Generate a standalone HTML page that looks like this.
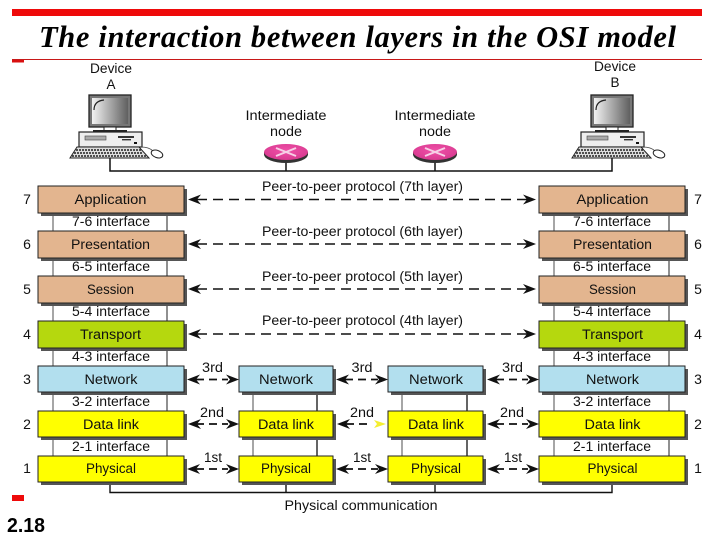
<!DOCTYPE html>
<html>
<head>
<meta charset="utf-8">
<style>
html,body{margin:0;padding:0;background:#fff;width:720px;height:540px;overflow:hidden}
svg{display:block;position:absolute;left:0;top:0;filter:blur(0.3px)}
text{font-family:"Liberation Sans",sans-serif;font-size:13.5px;fill:#111;text-anchor:middle}
.title{font-family:"Liberation Serif",serif;font-weight:bold;font-style:italic;font-size:30.5px;fill:#000;text-anchor:start}
.num{font-size:14px}
.tan{fill:#E3B58F}.lime{fill:#B5D80E}.blue{fill:#B2DFEE}.yel{fill:#FFFF00}
.box{stroke:#222;stroke-width:1}
.dash{stroke:#111;stroke-width:1.6;stroke-dasharray:10 6;fill:none}
.dash2{stroke:#111;stroke-width:1.8;stroke-dasharray:8 5;fill:none}
</style>
</head>
<body>
<svg width="720" height="540" viewBox="0 0 720 540" xmlns="http://www.w3.org/2000/svg">
<defs>
<linearGradient id="scr" x1="0" y1="0" x2="1" y2="0"><stop offset="0" stop-color="#f2f2f2"/><stop offset="1" stop-color="#606060"/></linearGradient>
<radialGradient id="pink" cx="0.5" cy="0.4" r="0.6"><stop offset="0" stop-color="#f050a8"/><stop offset="1" stop-color="#d83a90"/></radialGradient>
<g id="pc">
<rect x="0" y="0" width="42" height="32" fill="#777" stroke="#222" stroke-width="1.3"/>
<rect x="3" y="3" width="36" height="26" fill="url(#scr)"/>
<path d="M5 15 Q5 6 15 5" fill="none" stroke="#222" stroke-width="1.2"/>
<rect x="15" y="32" width="12" height="4" fill="#fff" stroke="#222"/>
<rect x="4" y="35" width="34" height="2" fill="#222"/>
<rect x="-10" y="37" width="63" height="15" fill="#eee" stroke="#222" stroke-width="1.2"/>
<rect x="-4" y="41" width="21" height="4" fill="#aaa" stroke="#444" stroke-width=".6"/>
<rect x="29" y="41" width="16" height="2" fill="#333"/>
<rect x="33" y="44" width="9" height="1.4" fill="#333"/>
<rect x="45" y="47" width="3" height="2" fill="#111"/>
<path d="M-12 52 H50 L60 63 H-19 Z" fill="#ddd" stroke="#222"/>
<path d="M-13 55 H52 M-15 58 H54 M-17 61 H57" stroke="#222" stroke-width="1.4" stroke-dasharray="2 1" fill="none"/>
<path d="M52 52 Q60 52 64 56" fill="none" stroke="#444" stroke-width=".8"/>
<ellipse cx="68" cy="59" rx="6" ry="3.6" transform="rotate(20 68 59)" fill="#fff" stroke="#222"/>
</g>
<g id="node">
<path d="M-22 0 V2.500 A22 8.500 0 0 0 22 2.500 V0" fill="#333"/>
<ellipse cx="0" cy="0" rx="22" ry="8" fill="url(#pink)"/>
<path d="M-10 -4 L10 4 M-10 4 L10 -4" stroke="#f6d0e6" stroke-width="2"/>
</g>
<g id="ah"><path d="M0 0 L13 -5 L9 0 L13 5 Z" fill="#111"/></g>
<g id="ahr"><path d="M0 0 L-13 -5 L-9 0 L-13 5 Z" fill="#111"/></g>
</defs>

<!-- slide chrome -->
<rect x="12" y="9" width="690" height="7" fill="#EE0A0A"/>
<rect x="12" y="59" width="690" height="1" fill="#C81818"/>
<rect x="12" y="60" width="12" height="2.500" fill="#D81010"/>
<rect x="12" y="495" width="12" height="6" fill="#EE0A0A"/>
<text class="title" x="39" y="47" textLength="637" lengthAdjust="spacing">The interaction between layers in the OSI model</text>
<text x="7" y="532" style="font-weight:bold;font-size:20px;fill:#000;text-anchor:start" textLength="38" lengthAdjust="spacingAndGlyphs">2.18</text>

<!-- top network -->
<path d="M110 158 V171 H612 V158 M286 160 V171 M435 160 V171" fill="none" stroke="#111" stroke-width="1.5"/>
<use href="#pc" x="89" y="95"/>
<use href="#pc" x="591" y="95"/>
<use href="#node" x="286" y="152"/>
<use href="#node" x="435" y="152"/>
<text x="111" y="73" textLength="42" lengthAdjust="spacingAndGlyphs">Device</text>
<text x="111" y="89">A</text>
<text x="615" y="71" textLength="42" lengthAdjust="spacingAndGlyphs">Device</text>
<text x="615" y="87">B</text>
<text x="286" y="120" textLength="81" lengthAdjust="spacingAndGlyphs">Intermediate</text>
<text x="286" y="136" textLength="32" lengthAdjust="spacingAndGlyphs">node</text>
<text x="435" y="120" textLength="81" lengthAdjust="spacingAndGlyphs">Intermediate</text>
<text x="435" y="136" textLength="32" lengthAdjust="spacingAndGlyphs">node</text>

<!-- interface columns -->
<path d="M53 213 V456 M554 213 V456" stroke="#888" stroke-width="1.500" fill="none"/>
<path d="M167 213 V456 M669 213 V456" stroke="#222" stroke-width="1" fill="none"/>
<path d="M253 392 V456 M402 392 V456" stroke="#888" stroke-width="1.500" fill="none"/>
<path d="M317 392 V456 M467 392 V456" stroke="#111" stroke-width="1.300" fill="none"/>

<!-- bottom physical link -->
<path d="M110 483 V492.500 H612 V483 M286 483 V492.500 M435 483 V492.500" fill="none" stroke="#111" stroke-width="1.400"/>

<!-- shadows -->
<g fill="#555">
<rect x="41" y="189" width="146" height="27"/><rect x="41" y="234" width="146" height="27"/><rect x="41" y="279" width="146" height="27"/><rect x="41" y="324" width="146" height="27"/><rect x="41" y="369" width="146" height="26"/><rect x="41" y="414" width="146" height="26"/><rect x="41" y="459" width="146" height="26"/>
<rect x="542" y="189" width="146" height="27"/><rect x="542" y="234" width="146" height="27"/><rect x="542" y="279" width="146" height="27"/><rect x="542" y="324" width="146" height="27"/><rect x="542" y="369" width="146" height="26"/><rect x="542" y="414" width="146" height="26"/><rect x="542" y="459" width="146" height="26"/>
<rect x="242" y="369" width="94" height="26"/><rect x="242" y="414" width="94" height="26"/><rect x="242" y="459" width="94" height="26"/>
<rect x="391" y="369" width="95" height="26"/><rect x="391" y="414" width="95" height="26"/><rect x="391" y="459" width="95" height="26"/>
</g>

<!-- left stack -->
<rect class="box tan" x="38" y="186" width="146" height="27"/>
<rect class="box tan" x="38" y="231" width="146" height="27"/>
<rect class="box tan" x="38" y="276" width="146" height="27"/>
<rect class="box lime" x="38" y="321" width="146" height="27"/>
<rect class="box blue" x="38" y="366" width="146" height="26"/>
<rect class="box yel" x="38" y="411" width="146" height="26"/>
<rect class="box yel" x="38" y="456" width="146" height="26"/>
<!-- right stack -->
<rect class="box tan" x="539" y="186" width="146" height="27"/>
<rect class="box tan" x="539" y="231" width="146" height="27"/>
<rect class="box tan" x="539" y="276" width="146" height="27"/>
<rect class="box lime" x="539" y="321" width="146" height="27"/>
<rect class="box blue" x="539" y="366" width="146" height="26"/>
<rect class="box yel" x="539" y="411" width="146" height="26"/>
<rect class="box yel" x="539" y="456" width="146" height="26"/>
<!-- intermediate -->
<rect class="box blue" x="239" y="366" width="94" height="26"/>
<rect class="box yel" x="239" y="411" width="94" height="26"/>
<rect class="box yel" x="239" y="456" width="94" height="26"/>
<rect class="box blue" x="388" y="366" width="95" height="26"/>
<rect class="box yel" x="388" y="411" width="95" height="26"/>
<rect class="box yel" x="388" y="456" width="95" height="26"/>

<!-- peer arrows -->
<path class="dash" d="M197 199.500 H528"/>
<path class="dash" d="M197 244 H528"/>
<path class="dash" d="M197 289 H528"/>
<path class="dash" d="M197 334 H528"/>
<use href="#ah" x="188" y="199.500"/><use href="#ahr" x="536" y="199.500"/>
<use href="#ah" x="188" y="244"/><use href="#ahr" x="536" y="244"/>
<use href="#ah" x="188" y="289"/><use href="#ahr" x="536" y="289"/>
<use href="#ah" x="188" y="334"/><use href="#ahr" x="536" y="334"/>

<!-- short arrows -->
<g>
<path class="dash2" d="M196 379.500 H228"/><use href="#ah" x="187" y="379.500"/><use href="#ahr" x="239" y="379.500"/>
<path class="dash2" d="M345 379.500 H378"/><use href="#ah" x="336" y="379.500"/><use href="#ahr" x="388" y="379.500"/>
<path class="dash2" d="M496 379.500 H528"/><use href="#ah" x="487" y="379.500"/><use href="#ahr" x="539" y="379.500"/>
<path class="dash2" d="M196 424 H228"/><use href="#ah" x="188" y="424"/><use href="#ahr" x="239" y="424"/>
<path class="dash2" d="M346 424 H372"/><use href="#ah" x="337" y="424"/>
<path d="M374 420 L386 424 L374 428 L377 424 Z" fill="#F4EE30"/>
<path class="dash2" d="M496 424 H528"/><use href="#ah" x="487" y="424"/><use href="#ahr" x="539" y="424"/>
<path class="dash2" d="M196 469 H228"/><use href="#ah" x="187" y="469"/><use href="#ahr" x="239" y="469"/>
<path class="dash2" d="M345 469 H378"/><use href="#ah" x="336" y="469"/><use href="#ahr" x="388" y="469"/>
<path class="dash2" d="M496 469 H528"/><use href="#ah" x="487" y="469"/><use href="#ahr" x="539" y="469"/>
</g>

<!-- layer labels left -->
<text x="110.500" y="204" textLength="72" lengthAdjust="spacingAndGlyphs">Application</text>
<text x="110.500" y="249" textLength="79" lengthAdjust="spacingAndGlyphs">Presentation</text>
<text x="110.500" y="294" textLength="47" lengthAdjust="spacingAndGlyphs">Session</text>
<text x="110.500" y="339" textLength="61" lengthAdjust="spacingAndGlyphs">Transport</text>
<text x="111" y="384" textLength="53" lengthAdjust="spacingAndGlyphs">Network</text>
<text x="111" y="429" textLength="56" lengthAdjust="spacingAndGlyphs">Data link</text>
<text x="111" y="473" textLength="50" lengthAdjust="spacingAndGlyphs">Physical</text>
<!-- layer labels right -->
<text x="612.500" y="204" textLength="72" lengthAdjust="spacingAndGlyphs">Application</text>
<text x="612.500" y="249" textLength="79" lengthAdjust="spacingAndGlyphs">Presentation</text>
<text x="612.500" y="294" textLength="47" lengthAdjust="spacingAndGlyphs">Session</text>
<text x="612.500" y="339" textLength="61" lengthAdjust="spacingAndGlyphs">Transport</text>
<text x="612.500" y="384" textLength="53" lengthAdjust="spacingAndGlyphs">Network</text>
<text x="612.500" y="429" textLength="56" lengthAdjust="spacingAndGlyphs">Data link</text>
<text x="612.500" y="473" textLength="50" lengthAdjust="spacingAndGlyphs">Physical</text>
<!-- intermediate labels -->
<text x="286" y="384" textLength="54" lengthAdjust="spacingAndGlyphs">Network</text>
<text x="286" y="429" textLength="56" lengthAdjust="spacingAndGlyphs">Data link</text>
<text x="286" y="473" textLength="50" lengthAdjust="spacingAndGlyphs">Physical</text>
<text x="436" y="384" textLength="54" lengthAdjust="spacingAndGlyphs">Network</text>
<text x="436" y="429" textLength="56" lengthAdjust="spacingAndGlyphs">Data link</text>
<text x="436" y="473" textLength="50" lengthAdjust="spacingAndGlyphs">Physical</text>

<!-- interfaces -->
<text x="111" y="226" textLength="78" lengthAdjust="spacingAndGlyphs">7-6 interface</text>
<text x="111" y="271" textLength="78" lengthAdjust="spacingAndGlyphs">6-5 interface</text>
<text x="111" y="316" textLength="78" lengthAdjust="spacingAndGlyphs">5-4 interface</text>
<text x="111" y="361" textLength="78" lengthAdjust="spacingAndGlyphs">4-3 interface</text>
<text x="111" y="406" textLength="78" lengthAdjust="spacingAndGlyphs">3-2 interface</text>
<text x="111" y="451" textLength="78" lengthAdjust="spacingAndGlyphs">2-1 interface</text>
<text x="612" y="226" textLength="78" lengthAdjust="spacingAndGlyphs">7-6 interface</text>
<text x="612" y="271" textLength="78" lengthAdjust="spacingAndGlyphs">6-5 interface</text>
<text x="612" y="316" textLength="78" lengthAdjust="spacingAndGlyphs">5-4 interface</text>
<text x="612" y="361" textLength="78" lengthAdjust="spacingAndGlyphs">4-3 interface</text>
<text x="612" y="406" textLength="78" lengthAdjust="spacingAndGlyphs">3-2 interface</text>
<text x="612" y="451" textLength="78" lengthAdjust="spacingAndGlyphs">2-1 interface</text>

<!-- peer labels -->
<text x="362.500" y="191" textLength="201" lengthAdjust="spacingAndGlyphs">Peer-to-peer protocol (7th layer)</text>
<text x="362.500" y="236" textLength="201" lengthAdjust="spacingAndGlyphs">Peer-to-peer protocol (6th layer)</text>
<text x="362.500" y="281" textLength="201" lengthAdjust="spacingAndGlyphs">Peer-to-peer protocol (5th layer)</text>
<text x="362.500" y="325" textLength="201" lengthAdjust="spacingAndGlyphs">Peer-to-peer protocol (4th layer)</text>

<!-- hop labels -->
<text x="212.500" y="372" textLength="21" lengthAdjust="spacingAndGlyphs">3rd</text><text x="362" y="372" textLength="21" lengthAdjust="spacingAndGlyphs">3rd</text><text x="512.500" y="372" textLength="21" lengthAdjust="spacingAndGlyphs">3rd</text>
<text x="212" y="417" textLength="24" lengthAdjust="spacingAndGlyphs">2nd</text><text x="362" y="417" textLength="24" lengthAdjust="spacingAndGlyphs">2nd</text><text x="512" y="417" textLength="24" lengthAdjust="spacingAndGlyphs">2nd</text>
<text x="213" y="462" textLength="18" lengthAdjust="spacingAndGlyphs">1st</text><text x="362" y="462" textLength="18" lengthAdjust="spacingAndGlyphs">1st</text><text x="513" y="462" textLength="18" lengthAdjust="spacingAndGlyphs">1st</text>
<text x="361" y="510" textLength="153" lengthAdjust="spacingAndGlyphs">Physical communication</text>

<!-- layer numbers -->
<text class="num" x="27" y="204">7</text><text class="num" x="27" y="249">6</text><text class="num" x="27" y="294">5</text><text class="num" x="27" y="339">4</text><text class="num" x="27" y="384">3</text><text class="num" x="27" y="429">2</text><text class="num" x="27" y="473">1</text>
<text class="num" x="698" y="204">7</text><text class="num" x="698" y="249">6</text><text class="num" x="698" y="294">5</text><text class="num" x="698" y="339">4</text><text class="num" x="698" y="384">3</text><text class="num" x="698" y="429">2</text><text class="num" x="698" y="473">1</text>
</svg>
</body>
</html>
